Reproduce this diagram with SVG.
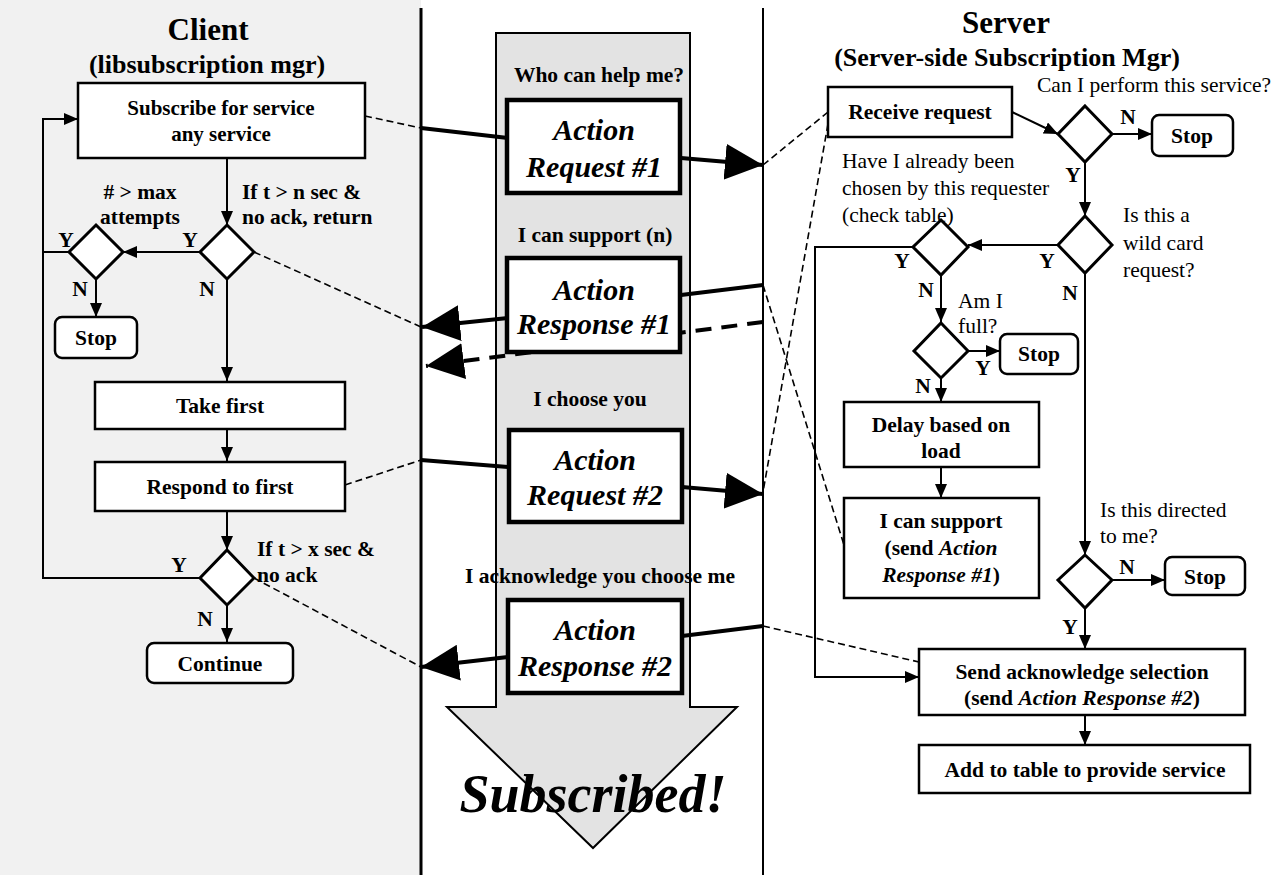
<svg xmlns="http://www.w3.org/2000/svg" width="1278" height="875" viewBox="0 0 1278 875">
<defs>
<style>
.box{fill:#fff;stroke:#000;stroke-width:2.5}
.mbox{fill:#fff;stroke:#000;stroke-width:4.5}
.dia{fill:#fff;stroke:#000;stroke-width:3}
.ln{fill:none;stroke:#000;stroke-width:2}
.dash{fill:none;stroke:#000;stroke-width:1.6;stroke-dasharray:7 4}
.thick{fill:none;stroke:#000;stroke-width:4}
.tdash{fill:none;stroke:#000;stroke-width:4;stroke-dasharray:16 10}
text{font-family:"Liberation Serif","Times New Roman",serif;fill:#000}
.b{font-weight:bold;font-size:21.5px}
.bm{font-weight:bold;font-size:21px}
.n{font-size:21.5px}
.t1{font-weight:bold;font-size:31px}
.t2{font-weight:bold;font-size:26px}
.act{font-weight:bold;font-style:italic;font-size:30px}
.it{font-style:italic}
.big{font-weight:bold;font-style:italic;font-size:54px}
</style>
<marker id="ah" viewBox="0 0 14 12" refX="14" refY="6" markerWidth="14" markerHeight="12" markerUnits="userSpaceOnUse" orient="auto"><path d="M0,0 L14,6 L0,12 z" fill="#000"/></marker>
<marker id="bh" viewBox="0 0 38 36" refX="38" refY="18" markerWidth="38" markerHeight="36" markerUnits="userSpaceOnUse" orient="auto"><path d="M0,0 L38,18 L0,36 z" fill="#000"/></marker>
</defs>
<rect x="0" y="0" width="1278" height="875" fill="#fff"/>
<rect x="0" y="0" width="421" height="875" fill="#f1f1f1"/>
<g id="flow-arrow">
<path d="M496,33 H690 V707 H737 L593,848 L447,707 H496 Z" fill="#e3e3e3" stroke="#000" stroke-width="2"/>
</g>
<g id="lanes">
<line x1="421" y1="8" x2="421" y2="875" stroke="#000" stroke-width="3"/>
<line x1="763" y1="8" x2="763" y2="875" stroke="#000" stroke-width="2"/>
</g>
<g id="connectors">
<path class="ln" d="M227,158 V225" marker-end="url(#ah)"/>
<path class="ln" d="M200,252 H123" marker-end="url(#ah)"/>
<path class="ln" d="M69,252 H43"/>
<path class="ln" d="M200,578 H43 V119 H78" marker-end="url(#ah)"/>
<path class="ln" d="M96,279 V317" marker-end="url(#ah)"/>
<path class="ln" d="M227,279 V381" marker-end="url(#ah)"/>
<path class="ln" d="M227,429 V461" marker-end="url(#ah)"/>
<path class="ln" d="M227,511 V550" marker-end="url(#ah)"/>
<path class="ln" d="M227,605 V642" marker-end="url(#ah)"/>
<path class="ln" d="M1012,112 L1058,134" marker-end="url(#ah)"/>
<path class="ln" d="M1112,134 H1152" marker-end="url(#ah)"/>
<path class="ln" d="M1085,162 V216" marker-end="url(#ah)"/>
<path class="ln" d="M1058,245 H968" marker-end="url(#ah)"/>
<path class="ln" d="M913,247 H815 V677 H919" marker-end="url(#ah)"/>
<path class="ln" d="M941,275 V322" marker-end="url(#ah)"/>
<path class="ln" d="M968,351 H1000" marker-end="url(#ah)"/>
<path class="ln" d="M941,378 V402" marker-end="url(#ah)"/>
<path class="ln" d="M941,467 V498" marker-end="url(#ah)"/>
<path class="ln" d="M1085,273 V555" marker-end="url(#ah)"/>
<path class="ln" d="M1112,580 H1165" marker-end="url(#ah)"/>
<path class="ln" d="M1085,608 V649" marker-end="url(#ah)"/>
<path class="ln" d="M1085,715 V745" marker-end="url(#ah)"/>
<path class="dash" d="M365,116 L421,128"/>
<path class="dash" d="M254,252 L421,327"/>
<path class="dash" d="M345,485 L421,460"/>
<path class="dash" d="M254,578 L421,667"/>
<path class="dash" d="M763,165 L828,112"/>
<path class="dash" d="M828,124 L763,492"/>
<path class="dash" d="M763,285 L844,545"/>
<path class="dash" d="M763,626 L919,662"/>
<path class="tdash" d="M763,322 L426,366" marker-end="url(#bh)"/>
<path class="thick" d="M421,128 L508,138"/>
<path class="thick" d="M681,158 L763,165" marker-end="url(#bh)"/>
<path class="thick" d="M763,285 L681,295"/>
<path class="thick" d="M508,318 L422,327" marker-end="url(#bh)"/>
<path class="thick" d="M421,460 L508,467"/>
<path class="thick" d="M682,487 L763,494" marker-end="url(#bh)"/>
<path class="thick" d="M763,626 L682,636"/>
<path class="thick" d="M508,657 L421,667" marker-end="url(#bh)"/>
</g>
<g id="client-title">
<text class="t1" x="208" y="40" text-anchor="middle">Client</text>
<text class="t2" x="207" y="73" text-anchor="middle">(libsubscription mgr)</text>
</g>
<g id="subscribe"><rect class="box" x="78" y="83" width="287" height="75"/>
<text class="bm" x="221" y="115" text-anchor="middle">Subscribe for service</text>
<text class="bm" x="221" y="141" text-anchor="middle">any service</text></g>
<g id="dec-timeout1"><path class="dia" d="M227,225 L254,252 L227,279 L200,252 Z"/>
<text class="b" x="242" y="199">If t &gt; n sec &amp;</text>
<text class="b" x="242" y="224">no ack, return</text>
<text class="b" x="190" y="247" text-anchor="middle">Y</text>
<text class="b" x="207" y="296" text-anchor="middle">N</text></g>
<g id="dec-max"><path class="dia" d="M96,225 L123,252 L96,279 L69,252 Z"/>
<text class="b" x="140" y="199" text-anchor="middle"># &gt; max</text>
<text class="b" x="140" y="224" text-anchor="middle">attempts</text>
<text class="b" x="66" y="247" text-anchor="middle">Y</text>
<text class="b" x="80" y="296" text-anchor="middle">N</text></g>
<g id="stop-client"><rect class="box" x="55" y="317" width="82" height="41" rx="7"/>
<text class="b" x="96" y="345" text-anchor="middle">Stop</text></g>
<g id="take-first"><rect class="box" x="95" y="382" width="250" height="47"/>
<text class="b" x="220" y="413" text-anchor="middle">Take first</text></g>
<g id="respond-first"><rect class="box" x="95" y="462" width="250" height="49"/>
<text class="b" x="220" y="494" text-anchor="middle">Respond to first</text></g>
<g id="dec-timeout2"><path class="dia" d="M227,550 L254,578 L227,605 L200,578 Z"/>
<text class="b" x="257" y="556">If t &gt; x sec &amp;</text>
<text class="b" x="257" y="582">no ack</text>
<text class="b" x="179" y="572" text-anchor="middle">Y</text>
<text class="b" x="205" y="626" text-anchor="middle">N</text></g>
<g id="continue"><rect class="box" x="147" y="643" width="146" height="40" rx="7"/>
<text class="b" x="220" y="671" text-anchor="middle">Continue</text></g>
<g id="msg1"><text class="b" x="599" y="82" text-anchor="middle">Who can help me?</text>
<rect class="mbox" x="507" y="100" width="173" height="93"/>
<text class="act" x="594" y="140" text-anchor="middle">Action</text>
<text class="act" x="594" y="177" text-anchor="middle">Request #1</text></g>
<g id="msg2"><text class="b" x="595" y="242" text-anchor="middle">I can support (n)</text>
<rect class="mbox" x="507" y="258" width="173" height="94"/>
<text class="act" x="594" y="300" text-anchor="middle">Action</text>
<text class="act" x="594" y="334" text-anchor="middle">Response #1</text></g>
<g id="msg3"><text class="b" x="590" y="406" text-anchor="middle">I choose you</text>
<rect class="mbox" x="509" y="430" width="173" height="92"/>
<text class="act" x="595" y="470" text-anchor="middle">Action</text>
<text class="act" x="595" y="505" text-anchor="middle">Request #2</text></g>
<g id="msg4"><text class="b" x="600" y="583" text-anchor="middle">I acknowledge you choose me</text>
<rect class="mbox" x="508" y="600" width="174" height="93"/>
<text class="act" x="595" y="640" text-anchor="middle">Action</text>
<text class="act" x="595" y="676" text-anchor="middle">Response #2</text></g>
<g id="subscribed"><text class="big" x="593" y="812" text-anchor="middle">Subscribed!</text></g>
<g id="server-title">
<text class="t1" x="1006" y="33" text-anchor="middle">Server</text>
<text class="t2" x="1007" y="66" text-anchor="middle">(Server-side Subscription Mgr)</text>
</g>
<g id="receive"><rect class="box" x="828" y="87" width="184" height="50"/>
<text class="b" x="920" y="119" text-anchor="middle">Receive request</text></g>
<g id="dec-perform"><path class="dia" d="M1085,106 L1112,134 L1085,162 L1058,134 Z"/>
<text class="n" x="1037" y="92">Can I perform this service?</text>
<text class="b" x="1128" y="124" text-anchor="middle">N</text>
<text class="b" x="1073" y="182" text-anchor="middle">Y</text></g>
<g id="stop-s1"><rect class="box" x="1152" y="115" width="81" height="41" rx="7"/>
<text class="b" x="1192" y="143" text-anchor="middle">Stop</text></g>
<g id="dec-wild"><path class="dia" d="M1085,216 L1112,245 L1085,273 L1058,245 Z"/>
<text class="n" x="1123" y="222">Is this a</text>
<text class="n" x="1123" y="250">wild card</text>
<text class="n" x="1123" y="277">request?</text>
<text class="b" x="1047" y="268" text-anchor="middle">Y</text>
<text class="b" x="1070" y="300" text-anchor="middle">N</text></g>
<g id="dec-chosen"><path class="dia" d="M941,220 L968,247 L941,275 L913,247 Z"/>
<text class="n" x="842" y="168">Have I already been</text>
<text class="n" x="842" y="195">chosen by this requester</text>
<text class="n" x="842" y="222">(check table)</text>
<text class="b" x="902" y="268" text-anchor="middle">Y</text>
<text class="b" x="926" y="297" text-anchor="middle">N</text></g>
<g id="dec-full"><path class="dia" d="M941,323 L968,351 L941,378 L914,351 Z"/>
<text class="n" x="958" y="308">Am I</text>
<text class="n" x="958" y="333">full?</text>
<text class="b" x="983" y="375" text-anchor="middle">Y</text>
<text class="b" x="923" y="393" text-anchor="middle">N</text></g>
<g id="stop-s2"><rect class="box" x="1000" y="334" width="78" height="40" rx="7"/>
<text class="b" x="1039" y="361" text-anchor="middle">Stop</text></g>
<g id="delay"><rect class="box" x="844" y="402" width="195" height="65"/>
<text class="b" x="941" y="432" text-anchor="middle">Delay based on</text>
<text class="b" x="941" y="458" text-anchor="middle">load</text></g>
<g id="can-support"><rect class="box" x="844" y="498" width="195" height="100"/>
<text class="b" x="941" y="528" text-anchor="middle">I can support</text>
<text class="b" x="941" y="555" text-anchor="middle">(send <tspan class="it">Action</tspan></text>
<text class="b" x="941" y="582" text-anchor="middle"><tspan class="it">Response #1</tspan>)</text></g>
<g id="dec-directed"><path class="dia" d="M1085,555 L1112,580 L1085,608 L1058,580 Z"/>
<text class="n" x="1100" y="517">Is this directed</text>
<text class="n" x="1100" y="543">to me?</text>
<text class="b" x="1127" y="574" text-anchor="middle">N</text>
<text class="b" x="1070" y="634" text-anchor="middle">Y</text></g>
<g id="stop-s3"><rect class="box" x="1165" y="557" width="80" height="38" rx="7"/>
<text class="b" x="1205" y="584" text-anchor="middle">Stop</text></g>
<g id="send-ack"><rect class="box" x="919" y="649" width="326" height="66"/>
<text class="b" x="1082" y="679" text-anchor="middle">Send acknowledge selection</text>
<text class="b" x="1082" y="705" text-anchor="middle">(send <tspan class="it">Action Response #2</tspan>)</text></g>
<g id="add-table"><rect class="box" x="919" y="745" width="331" height="48"/>
<text class="b" x="1085" y="777" text-anchor="middle">Add to table to provide service</text></g>
</svg>
